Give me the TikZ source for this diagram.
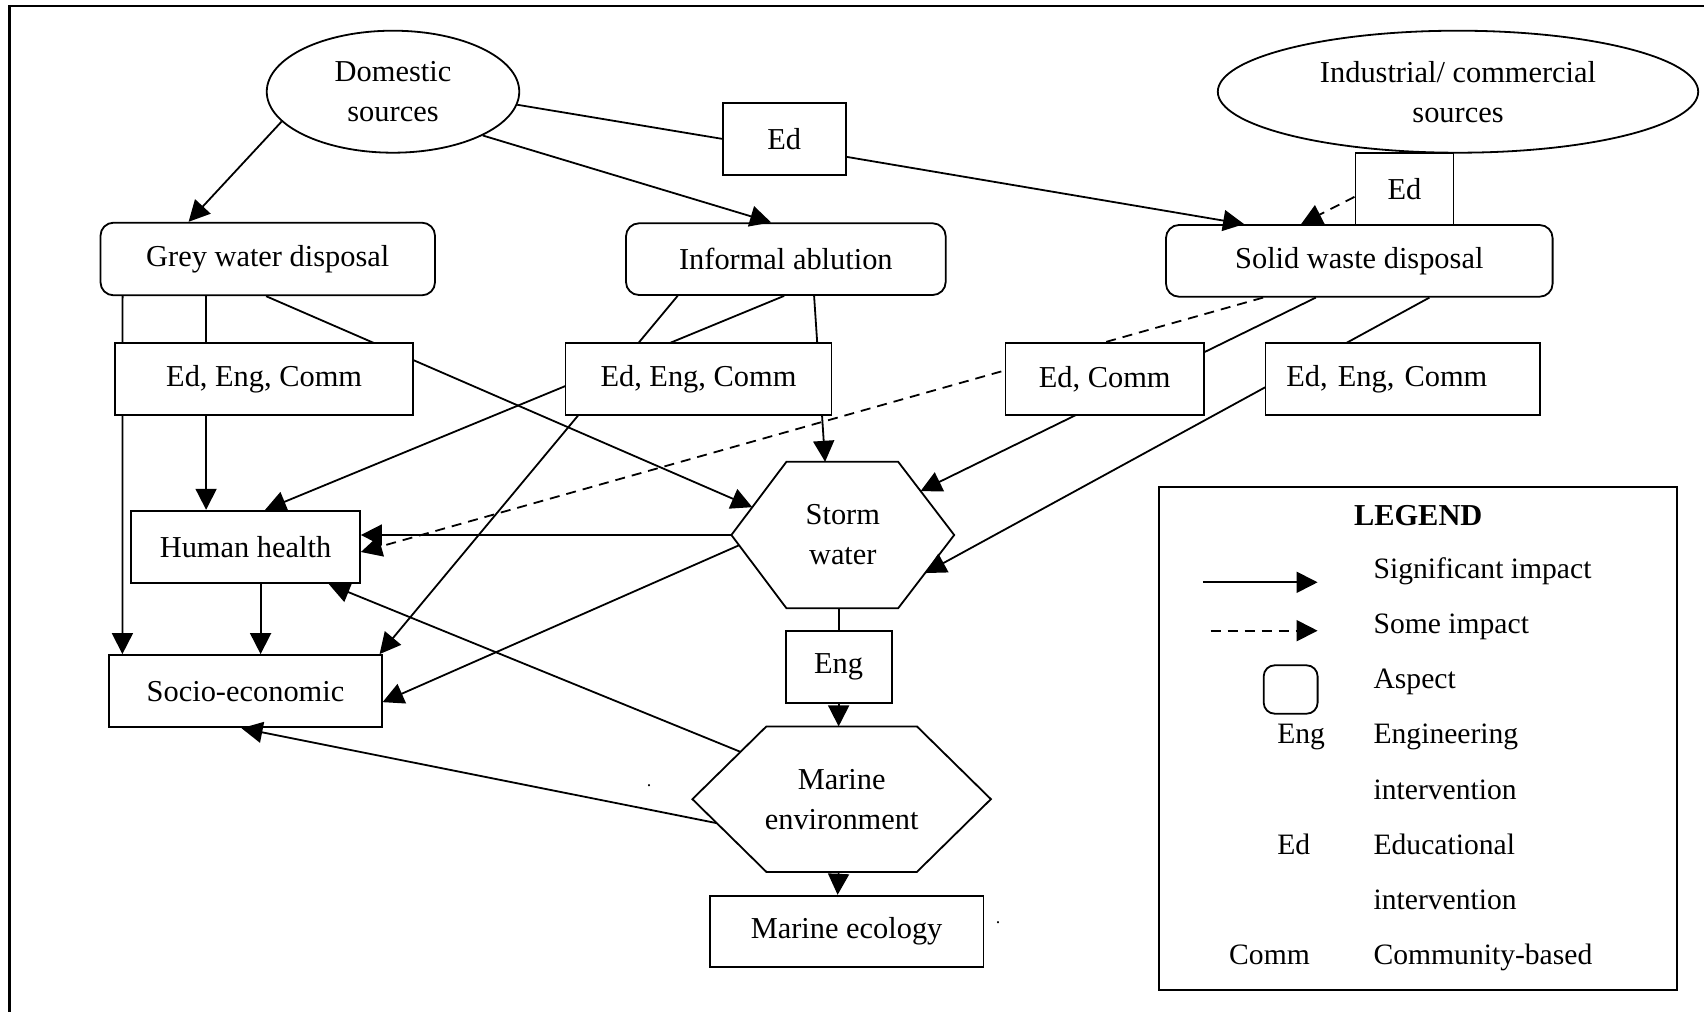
\documentclass[tikz,border=0pt]{standalone}
\usepackage{fontspec}
\setmainfont{Liberation Serif}
\usetikzlibrary{arrows.meta,calc,shapes.geometric}
\pgfdeclarelayer{bg}
\pgfsetlayers{bg,main}
\newcommand\dfont{\fontsize{15.2pt}{20pt}\selectfont}
\newcommand\lfont{\fontsize{14.8pt}{20pt}\selectfont}
\begin{document}
\begin{tikzpicture}[x=0.5pt,y=-0.5pt,
  every node/.style={font=\dfont, inner sep=0pt, line width=0.9pt},
  ln/.style={line width=0.9pt},
  arr/.style={line width=0.9pt, -{Triangle[length=10.5pt,width=10.5pt]}},
  dsh/.style={dash pattern=on 5pt off 3.5pt},
  ovalbox/.style={draw, ellipse, align=center},
  aspect/.style={draw, rectangle, rounded corners=6.5pt},
  ibox/.style={draw, rectangle, fill=white},
  obox/.style={draw, rectangle},
  hexlbl/.style={align=center},
  legtxt/.style={anchor=base west, font=\lfont}]
\useasboundingbox (0,0) rectangle (1704,1012);
\clip (0,0) rectangle (1704,1012);
% frame
\draw[line width=1.4pt] (9.3,1040) -- (9.3,6) -- (1720,6);

% sources
\node[ovalbox, minimum width=126.25pt, minimum height=61pt] (dom) at (393,91.7) {Domestic\\sources};
\node[ovalbox, minimum width=240.2pt, minimum height=61pt] (ind) at (1458,91.7) {Industrial/ commercial\\sources};

% aspects
\node[aspect, minimum width=167.25pt, minimum height=36.3pt] (grey) at (267.75,259) {Grey water disposal};
\node[aspect, minimum width=159.85pt, minimum height=35.85pt] (inf) at (785.85,259.15) {Informal ablution};
\node[aspect, minimum width=193.3pt, minimum height=35.85pt] (solid) at (1359.3,260.85) {Solid waste disposal};

% interventions
\node[ibox, minimum width=61.3pt, minimum height=36.15pt] (edtop) at (784.3,138.85) {Ed};
\node[ibox, minimum width=49.05pt, minimum height=36.15pt] (edind) at (1404.45,188.85) {Ed};
\node[ibox, minimum width=149.15pt, minimum height=36.15pt] (iL) at (264.15,378.85) {Ed, Eng, Comm};
\node[ibox, minimum width=133.05pt, minimum height=36.15pt] (iM) at (698.45,378.85) {Ed, Eng, Comm};
\node[ibox, minimum width=99.25pt, minimum height=36.15pt] (iC) at (1104.75,378.85) {Ed, Comm};
\node[ibox, minimum height=36.15pt, inner xsep=10.5pt, text width=116.2pt, align=left] (iR) at (1402.6,378.85) {Ed, Eng, Comm};
\node[ibox, minimum width=52.95pt, minimum height=36.15pt] (eng) at (838.65,667.15) {Eng};

% impacts
\node[obox, minimum width=114.5pt, minimum height=36.3pt] (hh) at (245.5,547) {Human health};
\node[obox, minimum width=136.2pt, minimum height=36.15pt] (se) at (245.5,691.15) {Socio-economic};
\node[obox, minimum width=136.8pt, minimum height=35.5pt] (me) at (846.6,931.2) {Marine ecology};

% hexagons
\node[hexlbl, minimum width=110.5pt, minimum height=72.3pt] (sw) at (842.8,535) {Storm\\water};
\coordinate (swL) at (sw.west);
\coordinate (swR) at (sw.east);
\coordinate (swTL) at ($(sw.north west)+(55,0)$);
\coordinate (swTR) at ($(sw.north east)+(-56,0)$);
\coordinate (swBL) at ($(sw.south west)+(55,0)$);
\coordinate (swBR) at ($(sw.south east)+(-56,0)$);
\draw[ln] (swL) -- (swTL) -- (swTR) -- (swR) -- (swBR) -- (swBL) -- cycle;

\node[hexlbl, minimum width=148.35pt, minimum height=71.85pt] (menv) at (841.65,799.15) {Marine\\environment};
\coordinate (menvL) at (menv.west);
\coordinate (menvR) at (menv.east);
\coordinate (menvTL) at ($(menv.north west)+(74,0)$);
\coordinate (menvTR) at ($(menv.north east)+(-74,0)$);
\coordinate (menvBL) at ($(menv.south west)+(74,0)$);
\coordinate (menvBR) at ($(menv.south east)+(-74,0)$);
\draw[ln] (menvL) -- (menvTL) -- (menvTR) -- (menvR) -- (menvBR) -- (menvBL) -- cycle;

% stray dots
\node[anchor=base, font=\small] (dot1) at (649,786) {.};
\node[anchor=base, font=\small] (dot2) at (998,923) {.};

% connectors
\begin{pgfonlayer}{bg}
\draw[arr] (dom.195) -- ($(grey.north west)+(89,0)$);
\draw[arr] (dom.334) -- ($(inf.north west)+(146,0)$);
\draw[ln] (dom.354) -- (edtop.west);
\draw[arr] ($(edtop.east)+(0,18)$) -- ($(solid.north west)+(79,0)$);
\draw[arr,dsh] ($(edind.west)+(0,8)$) -- ($(solid.north west)+(136,0)$);
\draw[arr] ($(grey.south west)+(23,0)$) -- ($(se.north west)+(14,0)$);
\draw[arr] ($(grey.south west)+(106.5,0)$) -- ($(hh.north west)+(76,0)$);
\draw[arr] ($(grey.south west)+(166.5,0)$) -- ($(swL)!0.38!(swTL)$);
\draw[arr] ($(inf.south west)+(159,0)$) -- ($(hh.north west)+(135,0)$);
\draw[arr] ($(inf.south west)+(52.5,0)$) -- ($(se.north east)+(-3,0)$);
\draw[arr] ($(inf.south west)+(189,0)$) -- ($(swTL)+(38.7,0)$);
\draw[arr] ($(solid.south west)+(150.7,0)$) -- ($(swTR)!0.4!(swR)$);
\draw[arr] ($(solid.south west)+(264.3,0)$) -- ($(swR)!0.52!(swBR)$);
\draw[arr,dsh] ($(solid.south west)+(98,0)$) -- ($(hh.east)+(0,5)$);
\draw[arr] (swL) -- (swL -| hh.east);
\draw[arr] ($(swL)!0.14!(swBL)$) -- ($(se.east)+(0,11)$);
\draw[arr] ($(hh.south west)+(130.5,0)$) -- ($(se.north west)+(152.2,0)$);
\draw[ln] (sw.south -| eng.north) -- (eng.north);
\draw[arr] (eng.south) -- (eng.south |- menvTL);
\draw[arr] ($(menv.south)+(-3,0)$) -- ($(me.north west)+(128.7,0)$);
\draw[arr] ($(menvL)!0.65!(menvTL)$) -- ($(hh.south east)+(-32,0)$);
\draw[arr] ($(menvL)!0.33!(menvBL)$) -- ($(se.south)+(-4,0)$);
\end{pgfonlayer}

% legend
\node[draw, minimum width=258.85pt, minimum height=251.8pt] (legend) at (1417.75,738.4) {};
\node[anchor=base, font=\dfont\bfseries] (lgt) at (1418.2,525.3) {LEGEND};
\coordinate (la1) at (1202.9,582.3);
\coordinate (lb1) at (1317.6,582.3);
\draw[arr] (la1) -- (lb1);
\coordinate (la2) at (1210.6,630.7);
\coordinate (lb2) at (1317.6,630.7);
\draw[arr,dsh] (la2) -- (lb2);
\node[draw, rounded corners=5.5pt, minimum width=26.95pt, minimum height=24.2pt] (lasp) at (1290.65,689.5) {};
\node[legtxt] (t1) at (1372.7,578.3) {Significant impact};
\node[legtxt] (t2) at (1372.7,633.5) {Some impact};
\node[legtxt] (t3) at (1372.7,688.7) {Aspect};
\node[legtxt] (t4) at (1372.7,743.9) {Engineering};
\node[legtxt] (t5) at (1372.7,799.1) {intervention};
\node[legtxt] (t6) at (1372.7,854.3) {Educational};
\node[legtxt] (t7) at (1372.7,909.5) {intervention};
\node[legtxt] (t8) at (1372.7,964.7) {Community-based};
\node[legtxt] (k1) at (1276.4,743.9) {Eng};
\node[legtxt] (k2) at (1276.4,854.3) {Ed};
\node[legtxt] (k3) at (1228.3,964.7) {Comm};
\end{tikzpicture}
\end{document}
